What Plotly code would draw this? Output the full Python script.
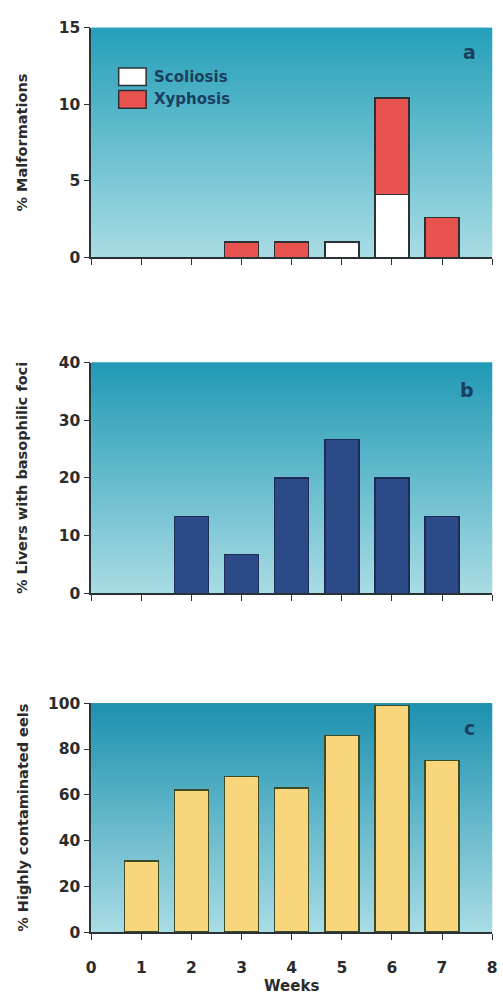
import plotly.graph_objects as go
from plotly.subplots import make_subplots

weeks = [1, 2, 3, 4, 5, 6, 7]
scoliosis = [None, None, None, None, 1.0, 4.1, None]
xyphosis = [None, None, 1.0, 1.0, None, 6.3, 2.6]
livers_foci = [None, 13.3, 6.7, 20.0, 26.7, 20.0, 13.3]
contaminated = [31, 62, 68, 63, 86, 99, 75]

x_ticks = [0, 1, 2, 3, 4, 5, 6, 7, 8]

FONT = "DejaVu Sans"
DARK = "#2a3236"
NAVY = "#1b3f5e"

fig = make_subplots(rows=3, cols=1)

fig.add_trace(go.Bar(x=weeks, y=scoliosis, name="Scoliosis", width=0.68,
                     marker=dict(color="#ffffff", line=dict(color=DARK, width=1.5)),
                     showlegend=False), row=1, col=1)
fig.add_trace(go.Bar(x=weeks, y=xyphosis, name="Xyphosis", width=0.68,
                     marker=dict(color="#e8524f", line=dict(color=DARK, width=1.5)),
                     showlegend=False), row=1, col=1)
fig.add_trace(go.Bar(x=weeks, y=livers_foci, name="Livers", width=0.68,
                     marker=dict(color="#2d4a88", line=dict(color="#1d2d55", width=1.5)),
                     showlegend=False), row=2, col=1)
fig.add_trace(go.Bar(x=weeks, y=contaminated, name="Contaminated", width=0.68,
                     marker=dict(color="#f9d67c", line=dict(color="#3d4a26", width=1.5)),
                     showlegend=False), row=3, col=1)

H = 1002
W = 503
def ydom(top_px, bot_px):
    return [1 - bot_px / H, 1 - top_px / H]

xdom = [88 / W, 497 / W]
doms = [ydom(19, 253), ydom(360, 595), ydom(707, 940)]
yranges = [[0, 15], [0, 40], [0, 100]]
ydticks = [5, 10, 20]
ytitles = ["% Malformations", "% Livers with basophilic foci", "% Highly contaminated eels"]
title_standoffs = [28, 28, 16]
letters = ["a", "b", "c"]
letter_pos = [(7.55, 13.4), (7.5, 35.2), (7.55, 89)]
top_cols = [(38, 160, 186), (34, 154, 182), (30, 146, 176)]
bot_col = (168, 220, 228)

axis_common = dict(showline=True, linecolor=DARK, linewidth=1.5, ticks="outside",
                   ticklen=6, tickwidth=1.3, tickcolor=DARK, showgrid=False, zeroline=False,
                   tickfont=dict(family=FONT, size=15.5, color="#2b2b2b", weight="bold"))

for i in range(3):
    xa = "xaxis" if i == 0 else f"xaxis{i+1}"
    ya = "yaxis" if i == 0 else f"yaxis{i+1}"
    fig.layout[xa].update(domain=xdom, range=[0, 8], tickmode="array", tickvals=x_ticks,
                          showticklabels=(i == 2), ticklabelstandoff=15, **axis_common)
    fig.layout[ya].update(domain=doms[i], range=yranges[i], dtick=ydticks[i],
                          title=dict(text=ytitles[i], font=dict(family=FONT, size=14.5, color="#2b2b2b", weight="bold"),
                                     standoff=title_standoffs[i]),
                          **axis_common)
    xr = "x" if i == 0 else f"x{i+1}"
    yr = "y" if i == 0 else f"y{i+1}"
    # gradient background strips
    n = 80
    tc = top_cols[i]
    for k in range(n):
        t = k / (n - 1)  # 0 bottom -> 1 top
        r = int(bot_col[0] + (tc[0] - bot_col[0]) * t)
        g = int(bot_col[1] + (tc[1] - bot_col[1]) * t)
        b = int(bot_col[2] + (tc[2] - bot_col[2]) * t)
        fig.add_shape(type="rect", xref=f"{xr} domain", yref=f"{yr} domain",
                      x0=0, x1=1, y0=k / n, y1=min(1, (k + 1) / n + 0.02),
                      fillcolor=f"rgb({r},{g},{b})", line=dict(width=0), layer="below")
    fig.add_annotation(text=letters[i], xref=xr, yref=yr,
                       x=letter_pos[i][0], y=letter_pos[i][1], showarrow=False,
                       xanchor="center", yanchor="middle",
                       font=dict(family=FONT, size=19, color=NAVY, weight="bold"))

fig.layout.xaxis3.update(title=dict(text="Weeks", font=dict(family=FONT, size=15, color="#2b2b2b", weight="bold"),
                                    standoff=3))

# legend for panel a
leg = [("Scoliosis", "#ffffff", 60, 78), ("Xyphosis", "#e8524f", 83, 101)]
for name, col, t, b in leg:
    fig.add_shape(type="rect", xref="paper", yref="paper",
                  x0=116 / W, x1=144 / W, y0=1 - b / H, y1=1 - t / H,
                  fillcolor=col, line=dict(color=DARK, width=1.5))
    fig.add_annotation(text=name, xref="paper", yref="paper", x=150 / W, y=1 - (t + b) / 2 / H,
                       xanchor="left", yanchor="middle", showarrow=False,
                       font=dict(family=FONT, size=15, color=NAVY, weight="bold"))

fig.update_layout(width=W, height=H, margin=dict(l=0, r=0, t=0, b=0),
                  barmode="stack", plot_bgcolor="rgba(0,0,0,0)", paper_bgcolor="white",
                  showlegend=False)

fig.write_html("out.html")
